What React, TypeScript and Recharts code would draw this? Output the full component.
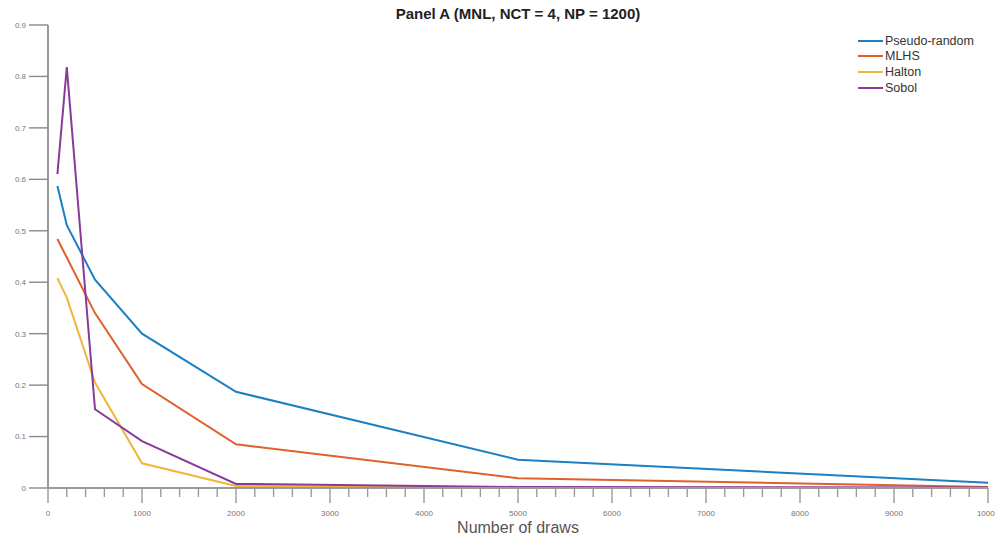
import { LineChart, Line, XAxis, YAxis } from "recharts";

const DRAWS = [100, 200, 500, 1000, 2000, 5000, 10000];
const PSEUDO_RANDOM = [0.587, 0.511, 0.405, 0.3, 0.187, 0.055, 0.01];
const MLHS = [0.484, 0.448, 0.34, 0.202, 0.085, 0.019, 0.002];
const HALTON = [0.408, 0.37, 0.205, 0.048, 0.004, 0.001, 0.0];
const SOBOL = [0.61, 0.818, 0.153, 0.091, 0.008, 0.002, 0.001];

const X_TICKS = [
  0, 200, 400, 600, 800, 1000, 1200, 1400, 1600, 1800, 2000, 2200, 2400, 2600, 2800, 3000,
  3200, 3400, 3600, 3800, 4000, 4200, 4400, 4600, 4800, 5000, 5200, 5400, 5600, 5800, 6000,
  6200, 6400, 6600, 6800, 7000, 7200, 7400, 7600, 7800, 8000, 8200, 8400, 8600, 8800, 9000,
  9200, 9400, 9600, 9800, 10000,
];
const Y_TICKS = [0, 0.1, 0.2, 0.3, 0.4, 0.5, 0.6, 0.7, 0.8, 0.9];

const SERIES = [
  { key: "pseudo", name: "Pseudo-random", values: PSEUDO_RANDOM, color: "#1b7fc4" },
  { key: "mlhs", name: "MLHS", values: MLHS, color: "#e0602a" },
  { key: "halton", name: "Halton", values: HALTON, color: "#efb73a" },
  { key: "sobol", name: "Sobol", values: SOBOL, color: "#8a3a9a" },
];

const data = DRAWS.map((d, i) => {
  const row: any = { draws: d };
  SERIES.forEach((s) => (row[s.key] = s.values[i]));
  return row;
});

const AXIS = "#9a9a9a";
const FONT = "'Liberation Sans', Arial, sans-serif";

function XTick(props: any) {
  const { x, y, payload } = props;
  const major = payload.value % 1000 === 0;
  return (
    <g>
      <line x1={x} x2={x} y1={y} y2={y + (major ? 15 : 9)} stroke={AXIS} strokeWidth={1.4} />
      {major && (
        <text x={x} y={y + 28} textAnchor="middle" fontSize={8} fill="#777" fontFamily={FONT}>
          {payload.value}
        </text>
      )}
    </g>
  );
}

export default function App() {
  return (
    <div style={{ position: "absolute", left: 0, top: 0, width: 995, height: 538, background: "#fff", fontFamily: FONT }}>
      <LineChart width={995} height={538} data={data} margin={{ top: 25, right: 7, left: 0, bottom: 0 }}>
        <XAxis
          type="number"
          dataKey="draws"
          domain={[0, 10000]}
          ticks={X_TICKS}
          interval={0}
          height={50}
          tickLine={false}
          tickSize={0}
          tickMargin={0}
          axisLine={{ stroke: AXIS, strokeWidth: 2 }}
          tick={<XTick />}
        />
        <YAxis
          type="number"
          domain={[0, 0.9]}
          ticks={Y_TICKS}
          interval={0}
          width={48}
          tickSize={19}
          tickMargin={3}
          tickLine={{ stroke: "#8a8a8a", strokeWidth: 1.4 }}
          axisLine={{ stroke: AXIS, strokeWidth: 2 }}
          tick={{ fontSize: 8, fill: "#777", fontFamily: FONT }}
        />
        {SERIES.map((s) => (
          <Line
            key={s.key}
            type="linear"
            dataKey={s.key}
            name={s.name}
            stroke={s.color}
            strokeWidth={2}
            dot={false}
            isAnimationActive={false}
          />
        ))}
      </LineChart>
      <div style={{ position: "absolute", left: 0, width: 1036, top: 5, textAlign: "center", fontSize: 15, fontWeight: "bold", color: "#222" }}>
        Panel A (MNL, NCT = 4, NP = 1200)
      </div>
      <div style={{ position: "absolute", left: 0, width: 1036, top: 519, textAlign: "center", fontSize: 16, color: "#555" }}>
        Number of draws
      </div>
      <div style={{ position: "absolute", left: 858, top: 33 }}>
        {SERIES.map((s) => (
          <div key={s.key} style={{ display: "flex", alignItems: "center", height: 15.6, fontSize: 12.5, color: "#333" }}>
            <span style={{ display: "inline-block", width: 25, height: 2, background: s.color, marginRight: 2 }} />
            {s.name}
          </div>
        ))}
      </div>
    </div>
  );
}
